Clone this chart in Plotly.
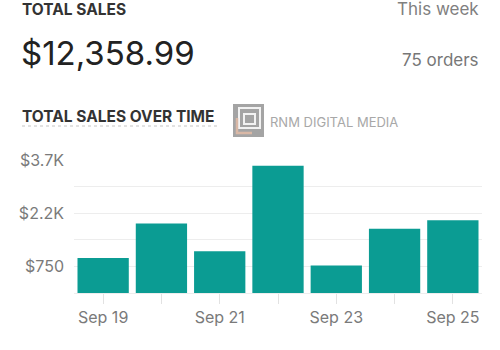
import plotly.graph_objects as go

# ---- data ----
dates = ["Sep 19", "Sep 20", "Sep 21", "Sep 22", "Sep 23", "Sep 24", "Sep 25"]
sales = [990, 1960, 1180, 3585, 775, 1815, 2054]
x_tick_labels = ["Sep 19", "", "Sep 21", "", "Sep 23", "", "Sep 25"]
y_tick_vals = [0, 750, 1500, 2250, 3000, 3750]
y_tick_text = ["", "$750", "", "$2.2K", "", "$3.7K"]
total_text = "$12,358.99"
orders_text = "75 orders"

W, H = 500, 350
L, R, T, B = 74, 18, 160, 57
FONT = "Inter, Roboto, Liberation Sans, sans-serif"
TEAL = "#0b9c93"


def px(x):
    return (x - L) / (W - L - R)


def py(y):
    return (H - B - y) / (H - T - B)


fig = go.Figure(go.Bar(x=dates, y=sales, marker_color=TEAL, marker_line_width=0))

annotations = [
    dict(text="<b>TOTAL SALES</b>", x=px(21), y=py(9), xanchor="left", yanchor="middle",
         font=dict(size=15.5, color="#333333", family=FONT)),
    dict(text=total_text, x=px(20), y=py(53), xanchor="left", yanchor="middle",
         font=dict(size=33, color="#222222", family=FONT)),
    dict(text="This week", x=px(480), y=py(9), xanchor="right", yanchor="middle",
         font=dict(size=17, color="#808080", family=FONT)),
    dict(text=orders_text, x=px(480), y=py(60), xanchor="right", yanchor="middle",
         font=dict(size=17, color="#777777", family=FONT)),
    dict(text="<b>TOTAL SALES OVER TIME</b>", x=px(21), y=py(116), xanchor="left", yanchor="middle",
         font=dict(size=15.5, color="#333333", family=FONT)),
    dict(text="RNM DIGITAL MEDIA", x=px(269), y=py(122), xanchor="left", yanchor="middle",
         font=dict(size=13, color="#a8a8a8", family=FONT)),
]
for a in annotations:
    a.update(xref="paper", yref="paper", showarrow=False, borderpad=0)

shapes = [
    # dotted underline of section title
    dict(type="line", x0=px(22), x1=px(218), y0=py(126), y1=py(126),
         line=dict(color="#c4c4c4", width=1.2, dash="dot")),
    # logo box
    dict(type="rect", x0=px(233), x1=px(264), y0=py(104), y1=py(137),
         fillcolor="#a4a4a4", line_width=0),
    dict(type="rect", x0=px(239), x1=px(260), y0=py(108), y1=py(128),
         fillcolor="rgba(0,0,0,0)", line=dict(color="#f2f2f2", width=2)),
    dict(type="rect", x0=px(244), x1=px(255), y0=py(114), y1=py(124),
         fillcolor="rgba(0,0,0,0)", line=dict(color="#f2f2f2", width=2)),
    dict(type="path",
         path=f"M {px(237)} {py(118)} L {px(237)} {py(133)} L {px(252)} {py(133)}",
         line=dict(color="#d9b8a6", width=2.5)),
]
for s in shapes:
    s.update(xref="paper", yref="paper")

fig.update_layout(
    width=W, height=H,
    margin=dict(l=L, r=R, t=T, b=B, pad=0),
    paper_bgcolor="white", plot_bgcolor="white",
    bargap=0.12,
    showlegend=False,
    font=dict(family=FONT, color="#7a7a7a", size=16),
    annotations=annotations,
    shapes=shapes,
    xaxis=dict(
        type="category",
        tickmode="array", tickvals=dates, ticktext=x_tick_labels,
        ticks="outside", ticklen=10, tickcolor="#e2e2e2", tickwidth=1,
        showgrid=False, showline=False, zeroline=False,
        tickfont=dict(size=16, color="#7a7a7a", family=FONT),
    ),
    yaxis=dict(
        range=[0, 3750],
        tickmode="array", tickvals=y_tick_vals, ticktext=y_tick_text,
        showgrid=True, gridcolor="#ededed", gridwidth=1,
        zeroline=True, zerolinecolor="#ededed", zerolinewidth=1,
        showline=False, ticks="", ticklabelstandoff=9,
        tickfont=dict(size=16, color="#7a7a7a", family=FONT),
    ),
)

fig.write_html("out.html")
